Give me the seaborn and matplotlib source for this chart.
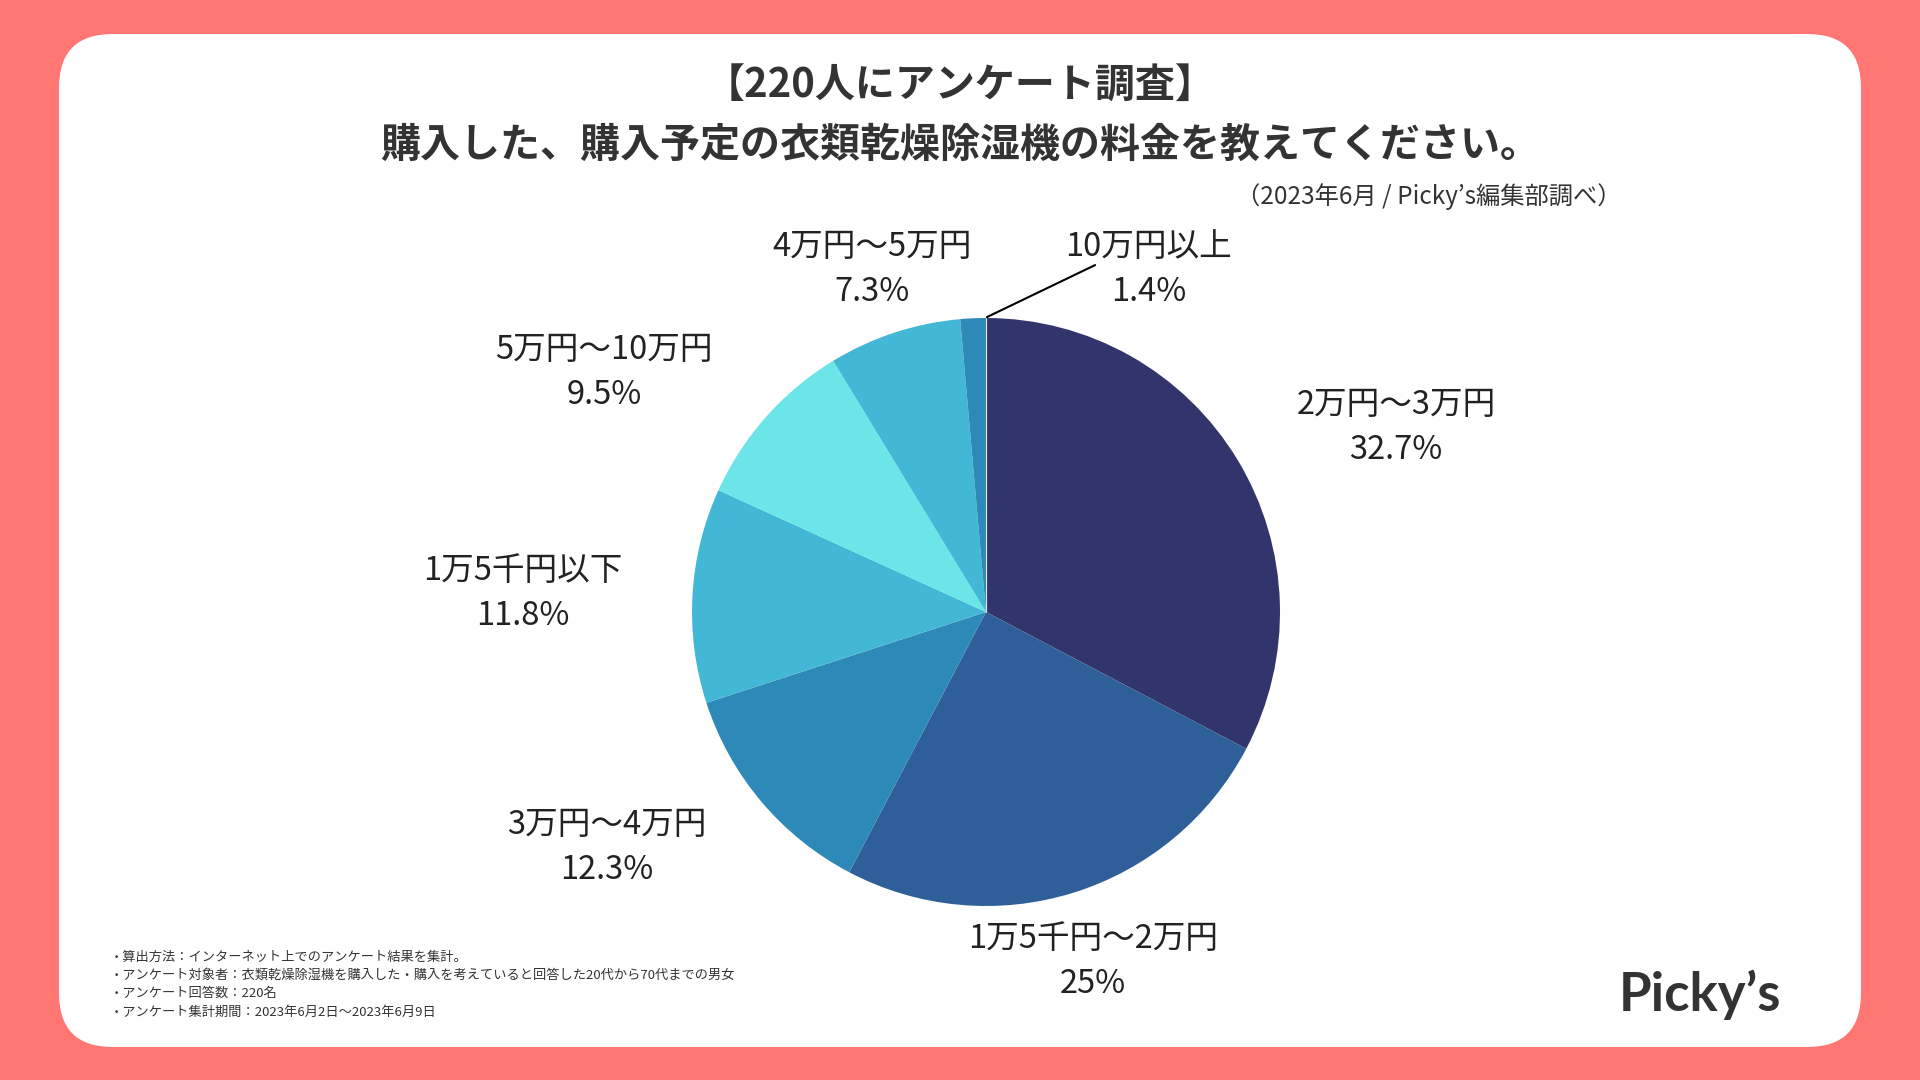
import matplotlib
matplotlib.use("Agg")
import matplotlib.pyplot as plt
from matplotlib.patches import FancyBboxPatch
import numpy as np
import seaborn as sns

# data
categories = ["2万円〜3万円", "1万5千円〜2万円", "3万円〜4万円", "1万5千円以下",
              "5万円〜10万円", "4万円〜5万円", "10万円以上"]
shares = [32.7, 25, 12.3, 11.8, 9.5, 7.3, 1.4]
share_labels = ["32.7%", "25%", "12.3%", "11.8%", "9.5%", "7.3%", "1.4%"]
colors = ["#31356c", "#2e5f98", "#2d89b8", "#42b8d6", "#6ce5e8", "#42b8d6", "#2d89b8"]

title = "【220人にアンケート調査】\n購入した、購入予定の衣類乾燥除湿機の料金を教えてください。"
source = "（2023年6月 / Picky’s編集部調べ）"
notes = ["・算出方法：インターネット上でのアンケート結果を集計。",
         "・アンケート対象者：衣類乾燥除湿機を購入した・購入を考えていると回答した20代から70代までの男女",
         "・アンケート回答数：220名",
         "・アンケート集計期間：2023年6月2日〜2023年6月9日"]

# label positions (pie units, radius = 1)
label_pos = [(1.395, 0.628), (0.364, -1.188), (-1.289, -0.801), (-1.575, 0.063),
             (-1.299, 0.815), (-0.388, 1.165), (0.554, 1.165)]

sns.set_theme(style="white")
plt.rcParams['font.family'] = ['Noto Sans CJK JP', 'DejaVu Sans']

fig = plt.figure(figsize=(19.2, 10.8), dpi=100)
fig.patch.set_facecolor("#ff7672")

card = FancyBboxPatch((59 / 1920, 1 - 1047 / 1080), (1861 - 59) / 1920, (1047 - 34) / 1080,
                      boxstyle="round,pad=0,rounding_size=0.028",
                      transform=fig.transFigure, facecolor="white", edgecolor="none",
                      mutation_aspect=1920 / 1080, zorder=-1)
fig.patches.append(card)

# pie axes: center (986, 612) px, radius 294 px
a = 1.55
half = 294 * a
ax = fig.add_axes([(986 - half) / 1920, (468 - half) / 1080, 2 * half / 1920, 2 * half / 1080])
ax.set_zorder(1)
ax.patch.set_alpha(0)
wedges, _ = ax.pie(shares, colors=colors, startangle=90, counterclock=False,
                   wedgeprops=dict(linewidth=0))
ax.set_xlim(-a, a)
ax.set_ylim(-a, a)
ax.set_aspect("equal")
ax.axis("off")

for cat, lab, (x, y) in zip(categories, share_labels, label_pos):
    ax.text(x, y, f"{cat}\n{lab}", ha="center", va="center", fontsize=23.5,
            color="#222222", linespacing=1.5)

# leader line for the smallest slice
ax.plot([0.003, 0.371], [1.003, 1.180], color="black", lw=1.5, clip_on=False)
ax.plot([0, 0], [0, 1], color="#d8eef5", lw=0.8)

fig.text(0.5, 1 - 116 / 1080, title, ha="center", va="center", fontsize=28.8,
         fontweight="bold", color="#333333", linespacing=1.55)
fig.text(1622 / 1920, 1 - 196.5 / 1080, source, ha="right", va="center", fontsize=17.5,
         color="#333333")

for i, line in enumerate(notes):
    fig.text(110 / 1920, 1 - (957 + i * 18.3) / 1080, line, ha="left", va="center",
             fontsize=9.5, color="#333333")

fig.text(1700 / 1920, 1 - 995 / 1080, "Picky’s", ha="center", va="center",
         fontsize=38, fontweight="bold", color="#333333", family=["Lato", "DejaVu Sans"])

fig.savefig("out.png", dpi=100, facecolor=fig.get_facecolor())
